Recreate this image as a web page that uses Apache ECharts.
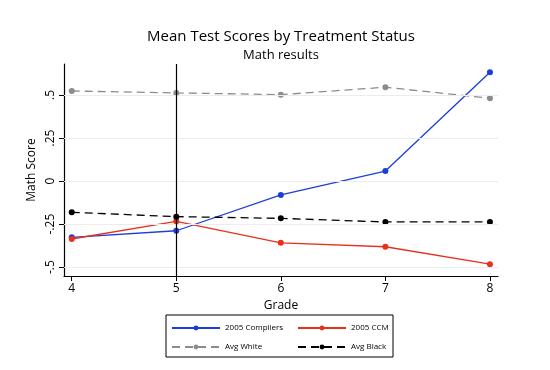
<!DOCTYPE html>
<html><head><meta charset="utf-8">
<script src="https://cdn.jsdelivr.net/npm/echarts@6/dist/echarts.min.js"></script>
<style>html,body{margin:0;padding:0;background:#fff}#c{width:550px;height:370px}</style>
</head><body><div id="c"></div>
<script>
const grades = [4, 5, 6, 7, 8];
const compliers = [-0.327, -0.289, -0.081, 0.058, 0.632];
const ccm = [-0.337, -0.234, -0.359, -0.382, -0.483];
const avgWhite = [0.523, 0.512, 0.502, 0.545, 0.481];
const avgBlack = [-0.182, -0.207, -0.217, -0.238, -0.238];
const yTicks = [-0.5, -0.25, 0, 0.25, 0.5];
const yTickLabels = ['-.5', '-.25', '0', '.25', '.5'];
const treatmentGrade = 5;

const FONT = 'Open Sans';
const pairs = arr => grades.map((g, i) => [g, arr[i]]);
const chart = echarts.init(document.getElementById('c'));

function lineSeries(name, data, color, dashed) {
  return {
    name, type: 'line', data: pairs(data),
    symbol: 'circle', symbolSize: 6,
    itemStyle: { color },
    lineStyle: { color, width: 1.3, type: dashed ? [8, 5] : 'solid' },
    emphasis: { disabled: true }, animation: false, z: 3
  };
}

const legendBase = {
  itemWidth: 48, itemHeight: 6, padding: 0,
  textStyle: { fontFamily: FONT, fontSize: 8, color: '#000' }
};

chart.setOption({
  animation: false,
  title: [
    { text: 'Mean Test Scores by Treatment Status', left: 276, top: 24, textAlign: 'center',
      textStyle: { fontFamily: FONT, fontSize: 15, fontWeight: 'normal', color: '#000' } },
    { text: 'Math results', left: 276, top: 44, textAlign: 'center',
      textStyle: { fontFamily: FONT, fontSize: 13, fontWeight: 'normal', color: '#000' } }
  ],
  grid: { left: 64, right: 52, top: 64, bottom: 94 },
  xAxis: {
    type: 'value', min: 3.926, max: 8.077,
    name: 'Grade', nameLocation: 'middle', nameGap: 19,
    nameTextStyle: { fontFamily: FONT, fontSize: 12, color: '#000' },
    axisLine: { show: true, onZero: false, lineStyle: { color: '#000', width: 1.2 } },
    axisTick: { show: true, length: 5, customValues: grades, lineStyle: { color: '#000' } },
    axisLabel: { customValues: grades, fontFamily: FONT, fontSize: 12, color: '#000', margin: 7 },
    splitLine: { show: false }
  },
  yAxis: {
    type: 'value', min: -0.552, max: 0.68,
    name: 'Math Score', nameLocation: 'middle', nameGap: 21, nameRotate: 90,
    nameTextStyle: { fontFamily: FONT, fontSize: 12, color: '#000' },
    axisLine: { show: true, onZero: false, lineStyle: { color: '#000', width: 1.2 } },
    axisTick: { show: true, length: 5, customValues: yTicks, lineStyle: { color: '#000' } },
    axisLabel: { customValues: yTicks, rotate: 90, fontFamily: FONT, fontSize: 12, color: '#000', margin: 7,
      formatter: v => { const i = yTicks.findIndex(t => Math.abs(t - v) < 1e-6); return i >= 0 ? yTickLabels[i] : ''; } },
    splitLine: { show: false }
  },
  legend: [
    Object.assign({ data: ['2005 Compliers'], left: 171, top: 324 }, legendBase),
    Object.assign({ data: ['2005 CCM'], left: 297, top: 324 }, legendBase),
    Object.assign({ data: ['Avg White'], left: 171, top: 343 }, legendBase),
    Object.assign({ data: ['Avg Black'], left: 297, top: 343 }, legendBase)
  ],
  graphic: [
    { type: 'rect', shape: { x: 166, y: 315, width: 227, height: 42 },
      style: { fill: 'none', stroke: '#000', lineWidth: 1 }, z: 0 }
  ],
  series: [
    {
      name: 'grid', type: 'line', data: [], silent: true,
      markLine: {
        silent: true, symbol: 'none', label: { show: false },
        lineStyle: { color: '#ececec', width: 1, type: 'solid' },
        data: yTicks.map(v => ({ yAxis: v }))
      }, z: 1
    },
    {
      name: 'vline', type: 'line', data: [], silent: true,
      markLine: {
        silent: true, symbol: 'none', label: { show: false },
        lineStyle: { color: '#000', width: 1.2, type: 'solid' },
        data: [{ xAxis: treatmentGrade }]
      }, z: 2
    },
    lineSeries('2005 Compliers', compliers, '#1c3ed8', false),
    lineSeries('2005 CCM', ccm, '#e8301c', false),
    lineSeries('Avg White', avgWhite, '#8c8c8c', true),
    lineSeries('Avg Black', avgBlack, '#000000', true)
  ]
});
</script></body></html>
